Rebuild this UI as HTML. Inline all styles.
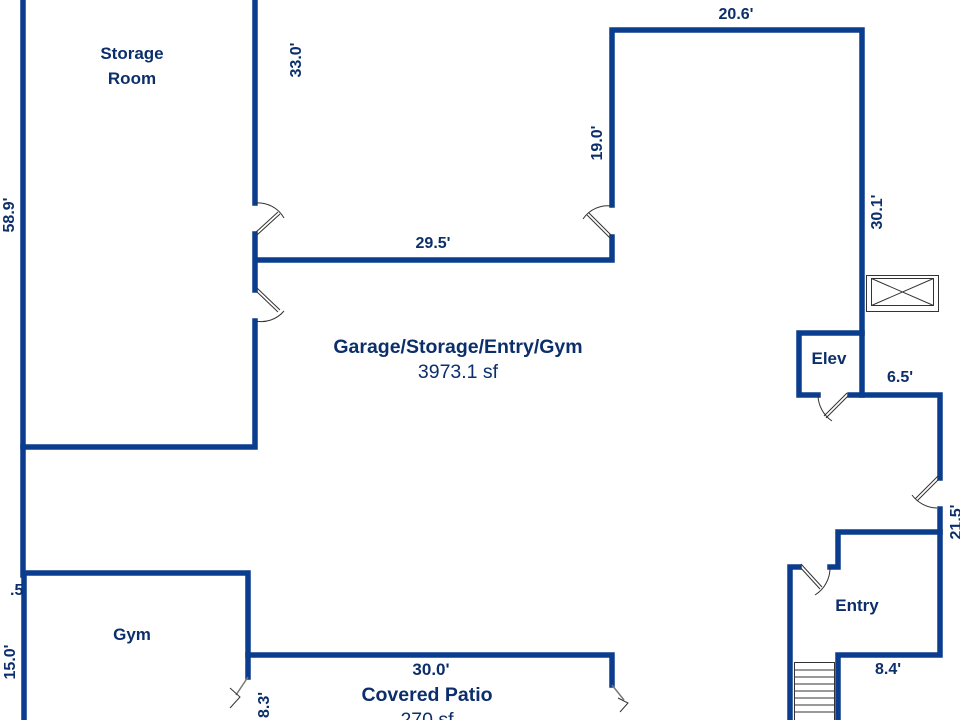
<!DOCTYPE html>
<html><head><meta charset="utf-8"><style>
html,body{margin:0;padding:0;background:#fff;}
svg{display:block;}
text{font-family:"Liberation Sans",Arial,sans-serif;fill:#0c2f6b;}
.b{font-weight:bold;}
</style></head><body>
<svg width="960" height="720" viewBox="0 0 960 720" xmlns="http://www.w3.org/2000/svg">
<g stroke="#0b3d8e" stroke-width="5.5" fill="none" stroke-linecap="square" stroke-linejoin="miter">
<polyline points="23,-5 23,575"/>
<polyline points="24,575 24,725"/>
<polyline points="255,-5 255,203"/>
<polyline points="255,234 255,290"/>
<polyline points="255,321 255,447 23,447"/>
<polyline points="257,260 612,260 612,237"/>
<polyline points="612,205 612,30 862,30 862,395"/>
<polyline points="862,333 799,333 799,395 818,395"/>
<polyline points="850,395 940,395 940,478"/>
<polyline points="940,509 940,655 838,655 838,725"/>
<polyline points="940,532 838,532 838,567 830,567"/>
<polyline points="799,567 790,567 790,725"/>
<polyline points="24,573 248,573 248,677"/>
<polyline points="248,655 612,655 612,685"/>
</g>
<g stroke="#333" stroke-width="1" fill="none">
<path d="M255,233 L278,212 M257,235 L280,214"/>
<path d="M255,203 A30,30 0 0 1 284,218"/>
<path d="M255,290 L278,312 M257,288 L280,310"/>
<path d="M284,311 A30,30 0 0 1 255,321"/>
<path d="M612,236 L589,213 M610,238 L587,215"/>
<path d="M612,206 A30,30 0 0 0 583,219"/>
<path d="M849,395 L826,418 M847,393 L824,416"/>
<path d="M818,395 A32,32 0 0 0 832,421"/>
<path d="M940,478 L917,501 M938,476 L915,499"/>
<path d="M912,495 A32,32 0 0 0 937,508"/>
<path d="M799,566 L820,589 M801,564 L822,587"/>
<path d="M830,567 A32,32 0 0 1 815,595"/>
<path d="M248,677 L236,695 M612,685 L624,700" stroke="#777" stroke-width="1.5"/>
<path d="M230,688 L240,697 L230,708 M618,698 L628,703 L620,712"/>
<rect x="866.5" y="275.5" width="72" height="36"/>
<rect x="871.5" y="278.5" width="62" height="27"/>
<path d="M871.5,278.5 L933.5,305.5 M933.5,278.5 L871.5,305.5"/>
<rect x="794.5" y="662.5" width="40" height="60"/>
<path d="M794.5,670 H834.5 M794.5,677 H834.5 M794.5,684 H834.5 M794.5,691 H834.5 M794.5,698 H834.5 M794.5,705 H834.5 M794.5,712 H834.5"/>
</g>
<text class="b" x="132" y="59" font-size="17" text-anchor="middle">Storage</text>
<text class="b" x="132" y="84" font-size="17" text-anchor="middle">Room</text>
<text class="b" x="458" y="353" font-size="19.5" text-anchor="middle">Garage/Storage/Entry/Gym</text>
<text x="458" y="378" font-size="19.5" text-anchor="middle">3973.1 sf</text>
<text class="b" x="433" y="248" font-size="16" text-anchor="middle">29.5'</text>
<text class="b" x="736" y="19" font-size="16" text-anchor="middle">20.6'</text>
<text class="b" x="900" y="382" font-size="16" text-anchor="middle">6.5'</text>
<text class="b" x="888" y="674" font-size="16" text-anchor="middle">8.4'</text>
<text class="b" x="829" y="364" font-size="17" text-anchor="middle">Elev</text>
<text class="b" x="857" y="611" font-size="17" text-anchor="middle">Entry</text>
<text class="b" x="132" y="640" font-size="17" text-anchor="middle">Gym</text>
<text class="b" x="431" y="675" font-size="17" text-anchor="middle">30.0'</text>
<text class="b" x="427" y="701" font-size="19.5" text-anchor="middle">Covered Patio</text>
<text x="427" y="726" font-size="19.5" text-anchor="middle">270 sf</text>
<text class="b" x="10" y="595" font-size="16">.5</text>
<text class="b" font-size="16" text-anchor="middle" transform="translate(301,60) rotate(-90)">33.0'</text>
<text class="b" font-size="16" text-anchor="middle" transform="translate(14,215) rotate(-90)">58.9'</text>
<text class="b" font-size="16" text-anchor="middle" transform="translate(602,143) rotate(-90)">19.0'</text>
<text class="b" font-size="16" text-anchor="middle" transform="translate(882,212) rotate(-90)">30.1'</text>
<text class="b" font-size="16" text-anchor="middle" transform="translate(961,522) rotate(-90)">21.5'</text>
<text class="b" font-size="16" text-anchor="middle" transform="translate(15,662) rotate(-90)">15.0'</text>
<text class="b" font-size="16" text-anchor="middle" transform="translate(269,705) rotate(-90)">8.3'</text>
</svg>
</body></html>
